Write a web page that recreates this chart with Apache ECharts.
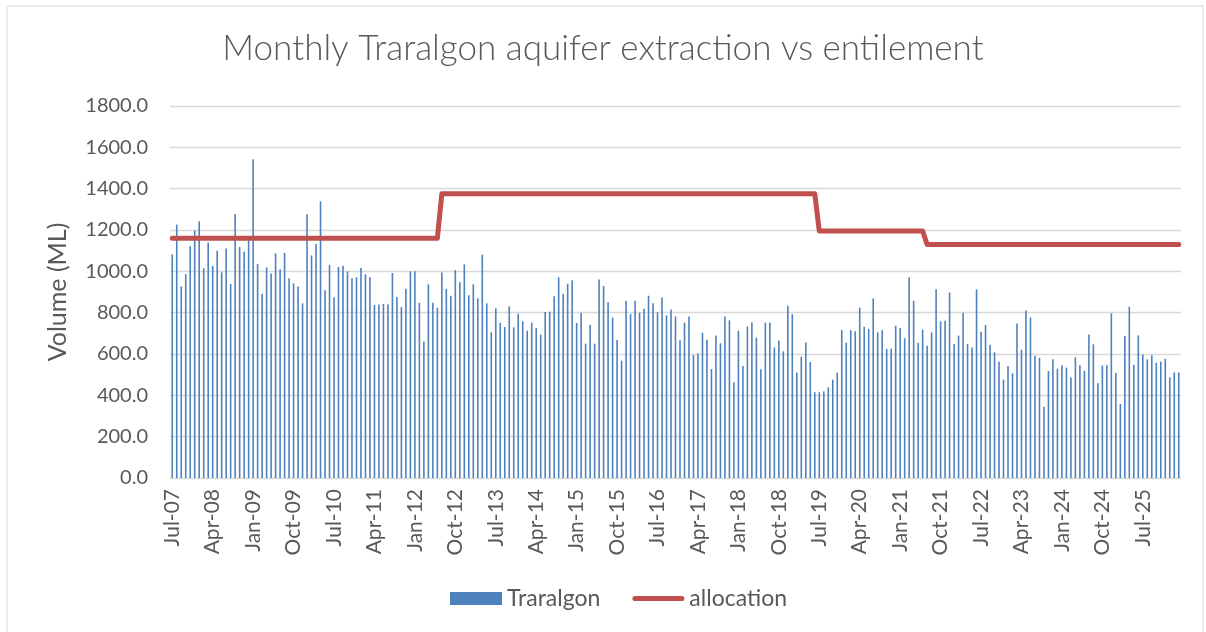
<!DOCTYPE html>
<html>
<head>
<meta charset="utf-8">
<script src="https://cdn.jsdelivr.net/npm/echarts@6/dist/echarts.min.js"></script>
<style>
  html, body { margin: 0; padding: 0; background: #fff; }
  #chart { width: 1206px; height: 632px; }
</style>
</head>
<body>
<div id="chart"></div>
<script>
// months Jul-07 .. Mar-26
const monthNames = ['Jan', 'Feb', 'Mar', 'Apr', 'May', 'Jun', 'Jul', 'Aug', 'Sep', 'Oct', 'Nov', 'Dec']
const months = []
for (let i = 0; i < 225; i++) {
  let m = (6 + i) % 12
  let y = 7 + Math.floor((6 + i) / 12)
  months.push(monthNames[m] + '-' + String(y).padStart(2, '0'))
}

// monthly extraction (ML)
const traralgon = [
  1082, 1226, 927, 987, 1121, 1198, 1242, 1015, 1140, 1026,
  1100, 995, 1110, 939, 1277, 1118, 1095, 1150, 1542, 1036,
  890, 1019, 990, 1087, 1010, 1090, 966, 942, 927, 845,
  1276, 1077, 1132, 1339, 908, 1031, 875, 1021, 1027, 1000,
  966, 971, 1016, 986, 971, 837, 840, 842, 840, 992,
  876, 827, 916, 1000, 1000, 848, 661, 937, 848, 824,
  994, 915, 882, 1006, 947, 1034, 884, 937, 869, 1081,
  845, 705, 821, 751, 730, 830, 729, 795, 758, 713,
  752, 726, 694, 803, 805, 879, 971, 892, 940, 957,
  750, 800, 650, 742, 650, 961, 929, 850, 776, 668,
  568, 858, 794, 858, 800, 819, 882, 845, 802, 873,
  787, 815, 782, 666, 752, 782, 595, 602, 703, 669,
  527, 689, 652, 782, 763, 463, 713, 542, 734, 752,
  679, 526, 752, 752, 631, 665, 613, 834, 792, 511,
  587, 656, 561, 415, 415, 419, 439, 476, 510, 717,
  655, 716, 710, 824, 732, 721, 869, 705, 715, 624,
  626, 737, 726, 676, 971, 858, 655, 718, 640, 705,
  913, 758, 761, 898, 648, 689, 800, 648, 632, 913,
  708, 740, 645, 608, 563, 476, 542, 506, 748, 621,
  811, 777, 592, 582, 345, 518, 574, 529, 545, 534,
  486, 584, 545, 519, 694, 647, 458, 544, 545, 797,
  508, 358, 687, 829, 548, 690, 598, 574, 594, 558,
  563, 577, 487, 511, 511
]

// entitlement levels and the month index each starts at
const allocLevels = [1160, 1375, 1195, 1130]
const allocStarts = [0, 60, 144, 168]
const allocation = months.map((_, i) => {
  let v = allocLevels[0]
  allocStarts.forEach((s, k) => { if (i >= s) v = allocLevels[k] })
  return v
})

const yTicks = [0, 200, 400, 600, 800, 1000, 1200, 1400, 1600, 1800]

let chart = echarts.init(document.getElementById('chart'))

const txt = '#595959'
const font = 'Lato'

let option = {
  animation: false,
  textStyle: { fontFamily: font },
  graphic: [{
    type: 'rect',
    shape: { x: 7, y: 6, width: 1196, height: 640 },
    style: { fill: 'none', stroke: '#d9d9d9', lineWidth: 1 },
    silent: true
  }],
  title: {
    text: 'Monthly Traralgon aquifer extraction vs entilement',
    left: 'center',
    top: 26,
    textStyle: { color: txt, fontSize: 35, fontWeight: 300, fontFamily: font }
  },
  legend: {
    bottom: 17,
    left: 445,
    itemWidth: 52,
    itemHeight: 13,
    itemGap: 32,
    textStyle: { color: txt, fontSize: 23, fontFamily: font },
    data: [
      { name: 'Traralgon', icon: 'rect' },
      { name: 'allocation', icon: 'path://M5 0 H95 A5 5 0 0 1 95 10 H5 A5 5 0 0 1 5 0 Z' }
    ]
  },
  grid: { left: 170, right: 25, top: 106, bottom: 154 },
  xAxis: {
    type: 'category',
    data: months,
    boundaryGap: true,
    axisLine: { lineStyle: { color: '#d9d9d9', width: 1 } },
    axisTick: { show: false },
    axisLabel: {
      interval: 8,
      rotate: 90,
      color: txt,
      fontSize: 21,
      margin: 11,
      fontFamily: font
    }
  },
  yAxis: {
    type: 'value',
    min: yTicks[0],
    max: yTicks[yTicks.length - 1],
    interval: 200,
    name: 'Volume (ML)',
    nameLocation: 'middle',
    nameGap: 100,
    nameTextStyle: { color: txt, fontSize: 25, fontFamily: font },
    axisLine: { show: false },
    axisTick: { show: false },
    axisLabel: {
      color: txt,
      fontSize: 20,
      margin: 22,
      fontFamily: font,
      formatter: v => v.toFixed(1)
    },
    splitLine: { lineStyle: { color: '#d9d9d9', width: 1.3 } }
  },
  series: [
    {
      name: 'Traralgon',
      type: 'bar',
      data: traralgon,
      barWidth: 1.6,
      itemStyle: { color: '#4f81bd' }
    },
    {
      name: 'allocation',
      type: 'line',
      data: allocation,
      symbol: 'none',
      lineStyle: { color: '#c0504d', width: 5, cap: 'round', join: 'round' },
      itemStyle: { color: '#c0504d' }
    }
  ]
}

chart.setOption(option)
</script>
</body>
</html>
